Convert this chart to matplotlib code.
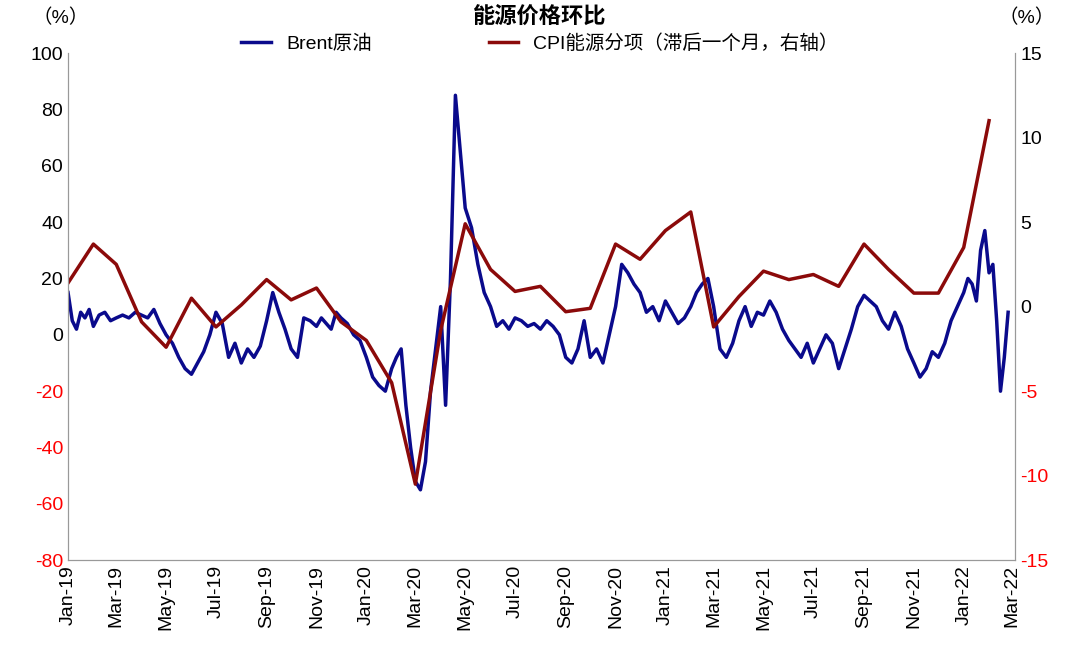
import numpy as np
import pandas as pd
import matplotlib
matplotlib.use("Agg")
import matplotlib.pyplot as plt
import matplotlib.dates as mdates

plt.rcParams['font.family'] = ['Liberation Sans', 'Noto Sans CJK SC', 'DejaVu Sans']
plt.rcParams['axes.unicode_minus'] = False

# Brent values (%), grouped by month (Jan-19 .. Feb-22)
brent_by_month = [
    [15, 5, 2, 8, 6, 9], [3, 7, 8, 5], [6, 7, 6, 8], [7, 6, 9, 4],
    [0, -3, -8, -12], [-14, -10, -6, 0], [8, 4, -8, -3], [-10, -5, -8, -4],
    [5, 15, 8, 2], [-5, -8, 6, 5], [3, 6, 4, 2, 8], [6, 4, 0, -2],
    [-8, -15, -18, -20], [-12, -8, -5, -25, -40], [-52, -55, -45, -20, -5],
    [10, -25, 20, 85, 65], [45, 38, 25, 15], [10, 3, 5, 2], [6, 5, 3, 4],
    [2, 5, 3, 0], [-8, -10, -5, 5], [-8, -5, -10, 0], [10, 25, 22, 18],
    [15, 8, 10, 5], [12, 8, 4, 6], [10, 15, 18, 20], [10, -5, -8, -3],
    [5, 10, 3, 8], [7, 12, 8, 2], [-2, -5, -8, -3], [-10, -5, 0, -3],
    [-12, -5, 2, 10], [14, 12, 10, 5], [2, 8, 3, -5], [-10, -15, -12, -6],
    [-8, -3, 5, 10], [15, 20, 18, 12, 30, 37], [22, 25, 5, -20, -8, 8],
]
month_starts = pd.date_range("2019-01-01", periods=len(brent_by_month) + 1, freq="MS")
brent_dates, brent = [], []
for i, vals in enumerate(brent_by_month):
    span = month_starts[i + 1] - month_starts[i]
    for j, v in enumerate(vals):
        brent_dates.append(month_starts[i] + span * j / len(vals))
        brent.append(v)

# CPI energy MoM (%), lagged one month, right axis
cpi = [1.4, 3.7, 2.5, -0.9, -2.4, 0.5, -1.2, 0.1, 1.6, 0.4, 1.1, -0.9,
       -2.0, -4.5, -10.5, -1.4, 4.9, 2.2, 0.9, 1.2, -0.3, -0.1, 3.7, 2.8,
       4.5, 5.6, -1.2, 0.6, 2.1, 1.6, 1.9, 1.2, 3.7, 2.2, 0.8, 0.8,
       3.5, 11.0]
cpi_dates = pd.date_range("2019-01-01", periods=len(cpi), freq="MS")

fig, ax = plt.subplots(figsize=(10.8, 6.63), dpi=100)
fig.subplots_adjust(left=0.063, right=0.94, top=0.92, bottom=0.155)
ax2 = ax.twinx()

l1, = ax.plot(brent_dates, brent, color="#0A0A8C", lw=2.5, label="Brent原油")
l2, = ax2.plot(cpi_dates, cpi, color="#8B0A0A", lw=2.5, label="CPI能源分项（滞后一个月，右轴）")

ax.set_ylim(-80, 100)
ax.set_yticks(range(-80, 101, 20))
ax2.set_ylim(-15, 15)
ax2.set_yticks(range(-15, 16, 5))
ax.set_xlim(pd.Timestamp("2019-01-01"), pd.Timestamp("2022-03-05"))
ax.xaxis.set_major_locator(mdates.MonthLocator(bymonth=[1, 3, 5, 7, 9, 11]))
ax.xaxis.set_major_formatter(mdates.DateFormatter("%b-%y"))
for lab in ax.get_xticklabels():
    lab.set_rotation(90)

for a in (ax, ax2):
    a.tick_params(labelsize=14, length=0)
    a.spines["top"].set_visible(False)
    for s in ("left", "right", "bottom"):
        a.spines[s].set_color("#999999")
for lab, v in zip(ax.get_yticklabels(), range(-80, 101, 20)):
    lab.set_color("red" if v < 0 else "black")
for lab, v in zip(ax2.get_yticklabels(), range(-15, 16, 5)):
    lab.set_color("red" if v < 0 else "black")

fig.text(0.03, 0.965, "（%）", fontsize=14)
fig.text(0.925, 0.965, "（%）", fontsize=14)
fig.text(0.5, 0.965, "能源价格环比", fontsize=16, fontweight="bold", ha="center")
fig.legend(handles=[l1, l2], loc="upper center", bbox_to_anchor=(0.5, 0.96),
           ncol=2, frameon=False, fontsize=14, handlelength=1.5,
           columnspacing=6, borderaxespad=0)

fig.savefig("out.png", dpi=100)
